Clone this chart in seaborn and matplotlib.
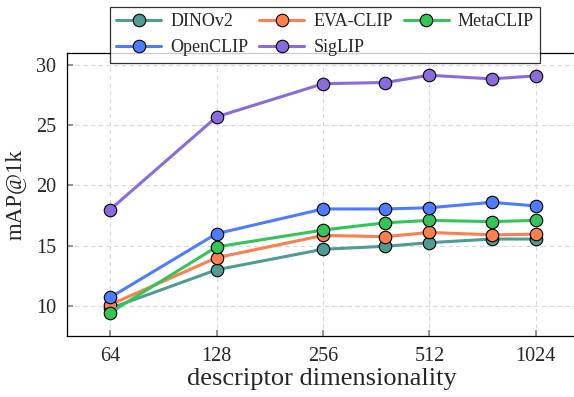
import matplotlib
matplotlib.use("Agg")
import matplotlib.pyplot as plt
import pandas as pd
import seaborn as sns
from matplotlib.ticker import FixedLocator, FixedFormatter, NullLocator

# data
dims = [64, 128, 256, 384, 512, 768, 1024]
dinov2 = [9.8, 13.0, 14.7, 14.95, 15.25, 15.55, 15.55]
eva_clip = [10.1, 14.0, 15.85, 15.75, 16.1, 15.9, 15.95]
metaclip = [9.45, 14.9, 16.3, 16.9, 17.1, 17.0, 17.1]
openclip = [10.7, 16.0, 18.05, 18.05, 18.15, 18.6, 18.3]
siglip = [18.0, 25.7, 28.45, 28.55, 29.15, 28.85, 29.1]

models = ["DINOv2", "EVA-CLIP", "MetaCLIP", "OpenCLIP", "SigLIP"]
colors = ["#4f9d92", "#fc7f50", "#34c45a", "#4f7cfb", "#8a6bdb"]
xticks = [64, 128, 256, 512, 1024]

rows = []
for name, vals in zip(models, [dinov2, eva_clip, metaclip, openclip, siglip]):
    for d, v in zip(dims, vals):
        rows.append({"dim": d, "mAP": v, "model": name})
df = pd.DataFrame(rows)

sns.set_theme(style="white")
plt.rcParams["font.family"] = ["Liberation Serif", "DejaVu Serif"]

fig = plt.figure(figsize=(5.74, 3.97), dpi=100)
ax = fig.add_axes([67 / 574, 61 / 397, 509 / 574, 283 / 397])

sns.lineplot(data=df, x="dim", y="mAP", hue="model", hue_order=models,
             palette=colors, marker="o", markersize=9, markeredgecolor="black",
             markeredgewidth=0.8, linewidth=2.2, ax=ax, legend=False, zorder=3)

ax.set_xscale("log", base=2)
ax.set_xlim(48.3, 1330)
ax.set_ylim(7.5, 31.0)
ax.xaxis.set_major_locator(FixedLocator(xticks))
ax.xaxis.set_major_formatter(FixedFormatter([str(t) for t in xticks]))
ax.xaxis.set_minor_locator(NullLocator())
ax.set_yticks([10, 15, 20, 25, 30])

ax.grid(True, linestyle=(0, (4, 3)), color="#d8d8d8", linewidth=0.8)
ax.tick_params(axis="both", direction="in", length=4, color="#888888",
               labelsize=14.5, pad=8, bottom=True, left=True)
for s in ax.spines.values():
    s.set_color("black")
    s.set_linewidth(0.9)

ax.set_xlabel("descriptor dimensionality", fontsize=19, labelpad=1)
ax.set_ylabel("mAP@1k", fontsize=16.5, labelpad=7)

# legend laid out row by row like the reference
handles = [plt.Line2D([], [], color=c, linewidth=2.2, marker="o", markersize=9,
                      markeredgecolor="black", markeredgewidth=0.8) for c in colors]
order = [0, 3, 1, 4, 2]
leg = fig.legend([handles[i] for i in order], [models[i] for i in order],
                 ncol=3, loc="upper center", bbox_to_anchor=(325 / 574, 1 - 7 / 397),
                 frameon=True, fancybox=False, fontsize=13, handlelength=2.5,
                 columnspacing=0.6, handletextpad=0.5, labelspacing=0.5,
                 borderpad=0.35, borderaxespad=0)
leg.get_frame().set_edgecolor("black")
leg.get_frame().set_linewidth(0.9)
leg.set_zorder(5)

fig.savefig("out.png", dpi=100)
